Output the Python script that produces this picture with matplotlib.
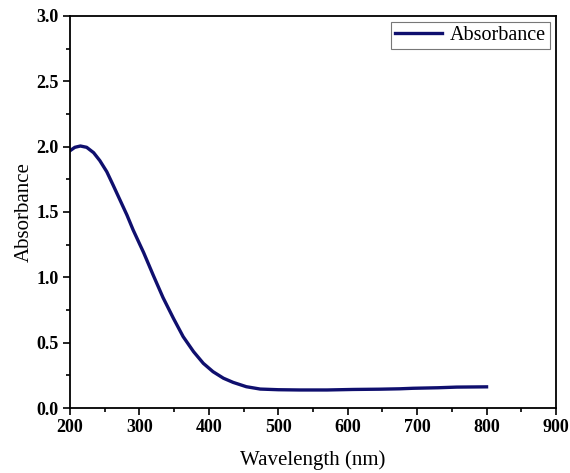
import numpy as np
import matplotlib.pyplot as plt
from matplotlib.ticker import MultipleLocator

plt.rcParams['font.family'] = ['Liberation Serif', 'DejaVu Serif']

# values
wavelength = [200, 207, 215, 224, 234, 243, 253, 262, 272, 282, 291, 301, 306,
              320, 334, 349, 363, 378, 392, 406, 421, 435, 454, 474, 500,
              531, 570, 608, 646, 675, 694, 730, 757, 800]
absorbance = [1.969, 1.995, 2.005, 1.995, 1.954, 1.893, 1.808, 1.707, 1.592, 1.477, 1.362, 1.247, 1.19,
              1.015, 0.845, 0.686, 0.546, 0.431, 0.342, 0.278, 0.228, 0.196, 0.163, 0.145, 0.140,
              0.138, 0.138, 0.142, 0.144, 0.147, 0.151, 0.155, 0.160, 0.162]

fig = plt.figure(figsize=(5.7, 4.73), dpi=100)
ax = fig.add_axes([0.1228, 0.1374, 0.8526, 0.8288])

ax.plot(wavelength, absorbance, color='#0f0f6e', lw=2.4, label='Absorbance')

ax.set_xlim(200, 900)
ax.set_ylim(0, 3.0)
ax.xaxis.set_major_locator(MultipleLocator(100))
ax.xaxis.set_minor_locator(MultipleLocator(50))
ax.yaxis.set_major_locator(MultipleLocator(0.5))
ax.yaxis.set_minor_locator(MultipleLocator(0.25))
ax.yaxis.set_major_formatter('{x:.1f}')

ax.tick_params(which='both', direction='out', top=False, right=False, width=1.2)
ax.tick_params(which='major', length=5, labelsize=13, pad=3)
ax.tick_params(which='minor', length=3)
for lab in ax.get_xticklabels() + ax.get_yticklabels():
    lab.set_fontweight('bold')
for sp in ax.spines.values():
    sp.set_linewidth(1.3)

ax.set_xlabel('Wavelength (nm)', fontsize=15, labelpad=10)
ax.set_ylabel('Absorbance', fontsize=15, labelpad=2)

leg = ax.legend(loc='upper right', fontsize=14.5, fancybox=False, framealpha=1,
                edgecolor='#777777', handlelength=2.3, borderpad=0.2,
                handletextpad=0.4, borderaxespad=0.3)
leg.get_frame().set_linewidth(0.8)

fig.savefig('out.png', dpi=100)
